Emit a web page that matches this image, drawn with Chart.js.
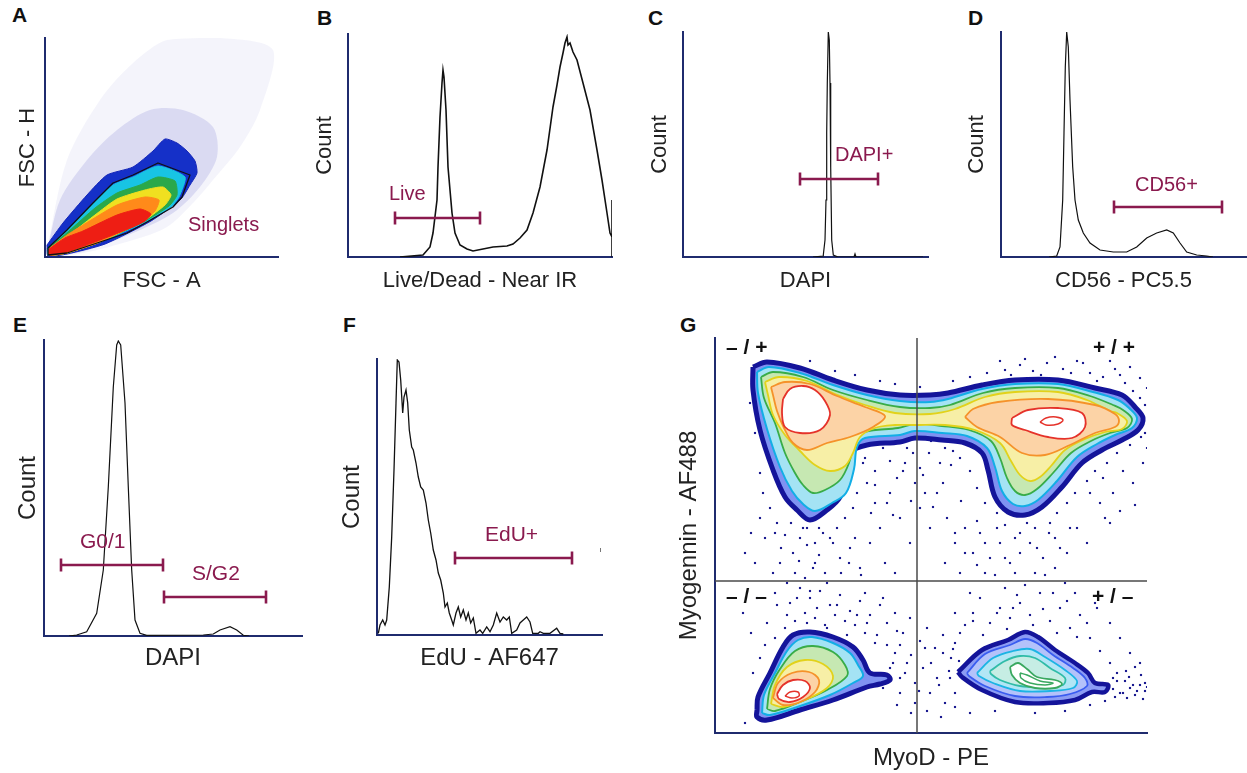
<!DOCTYPE html>
<html>
<head>
<meta charset="utf-8">
<script src="https://cdn.jsdelivr.net/npm/chart.js@4.4.0/dist/chart.umd.min.js"></script>
<style>
  body { margin: 0; background: #fff; width: 1247px; height: 773px; position: relative; overflow: hidden; }
  canvas { position: absolute; }
  .letter { position: absolute; font-family: "Liberation Sans", Arial, sans-serif; font-weight: bold; font-size: 21px; line-height: 21px; color: #111; }
</style>
</head>
<body>
<div class="letter" style="left:12px;top:4px">A</div>
<div class="letter" style="left:317px;top:7px">B</div>
<div class="letter" style="left:648px;top:7px">C</div>
<div class="letter" style="left:968px;top:7px">D</div>
<div class="letter" style="left:13px;top:314px">E</div>
<div class="letter" style="left:343px;top:314px">F</div>
<div class="letter" style="left:680px;top:314px">G</div>
<script>
const FONT = '"Liberation Sans", Arial, Helvetica, sans-serif';
const PURPLE = '#8a1a4e';
const AXIS = '#1f2b6e';

// ---- A: FSC-A vs FSC-H density (channel units) ----
const A_cloudOuter = [[2,8],[22,97],[55,157],[88,194],[122,217],[175,219],[228,207],[215,147],[195,110],[168,77],[148,54],[122,30],[88,17],[38,4],[3,1]];
const A_cloudInner = [[3,10],[15,57],[42,97],[72,127],[105,147],[138,147],[168,130],[172,100],[155,70],[128,44],[88,24],[40,6],[3,1]];
const A_blue   = [[2,12],[18,34],[42,62],[62,82],[88,90],[108,106],[120,118],[132,114],[142,106],[150,96],[152,84],[145,72],[136,58],[106,36],[60,13],[22,3],[3,1]];
const A_cyan   = [[3,9],[22,27],[48,53],[68,72],[88,80],[113,91],[140,80],[134,60],[126,50],[101,35],[55,15],[22,4],[3,2]];
const A_green  = [[4,9],[24,26],[50,49],[72,64],[95,72],[113,80],[130,76],[132,62],[124,51],[100,36],[55,15],[22,4],[4,2]];
const A_yellow = [[5,9],[28,25],[50,42],[72,58],[100,67],[118,70],[126,62],[120,52],[100,37],[55,15],[22,4],[5,2]];
const A_orange = [[5,9],[22,22],[38,32],[72,52],[100,60],[114,57],[110,46],[98,37],[55,15],[22,4],[5,2]];
const A_red    = [[4,8],[20,19],[38,26],[72,42],[95,48],[106,43],[100,36],[88,30],[55,17],[22,5],[4,2]];
const A_gate   = [[3,9],[22,27],[48,54],[68,74],[88,82],[113,94],[145,82],[137,60],[128,50],[102,35],[82,24],[55,15],[22,4],[3,2]];

// ---- B: Live/Dead histogram ----
const B_channel = [52,75,82,85,89,90,92,94,95,96,98,100,104,107,112,119,125,135,145,159,165,172,179,185,192,199,205,209,212,215,217,219,220,222,225,229,235,242,249,254,259,262,264,264,264];
const B_count   = [0,2,10,24,57,90,140,174,187,180,147,90,44,24,12,8,6,8,10,11,13,19,27,44,70,107,150,172,190,204,214,220,212,214,205,197,174,147,107,77,44,24,20,57,0];
const B_gateLive = [47, 132, 39];

// ---- C: DAPI (viability) histogram ----
const C_channel = [130,140,140.3,142,143,143.7,144.3,145.3,146.3,147,147.7,148.7,150.3,155,171,172,173,240];
const C_count   = [0,1,2,17,57,124,174,225,217,174,90,17,2,0,0,3,0,0];
const C_gateDapi = [117, 195, 78];

// ---- D: CD56 histogram ----
const D_channel = [48,55.7,59,61.7,63,64.3,65.7,67.3,69,71.7,74,77.3,82.3,89,99,112.3,125.7,135.7,145.7,155.7,165.7,172.3,179,185.7,195.7,205.7,212];
const D_count   = [0,1,10,57,124,190,225,210,157,90,57,37,24,14,7,5,5,10,19,24,27,24,14,5,2,1,0];
const D_gateCd56 = [113, 221, 50];

// ---- E: DAPI cell cycle histogram ----
const E_channel = [25,32.7,42.7,52.7,59.3,64.3,69.3,72.7,74.3,76.7,81,84.3,87.7,91,96,102.7,159.3,169.3,176,186,192.7,199.3,205];
const E_count   = [0,1,4.3,22.7,66,149,249,291,295,291,233,149,66,16,2.7,0.7,1,2,6,9.3,6,0.7,0];
const E_gateG01 = [17, 119, 71];
const E_gateSG2 = [120, 222, 39];

// ---- F: EdU histogram ----
const F_channel = [1.3,3,5.7,8,9.7,12.3,14.7,17,19,20.3,22,23.7,25.7,27,29,30.7,32.3,34.7,36.3,39,41.3,43.7,46.3,49,51.3,53.7,56.3,59,61.3,63.7,66.3,68,70.3,72.3,74.7,76.3,79,81.3,83.7,86.3,89,91.3,93.7,96.3,99,103,105.7,109.7,113,116.3,119.7,123,126.3,129.7,132.3,134.7,139.7,143,146.3,149.7,153,155.7,161.3,163,166.3,173,179.7,183,186.3];
const F_count   = [1.7,10,15,10,15,48,98,165,232,275,273,255,222,238,245,232,205,188,185,172,158,148,145,132,115,102,85,75,62,55,42,28,32,22,15,10,22,28,18,25,15,22,12,17,1.7,5,1.7,8,3.3,10,22,13,18,15,18,1.7,5,12,15,18,13,1.7,1.7,3.3,1.7,1.7,6.7,1.7,1];
const F_gateEdu = [78, 195, 77];
const F_stray = [[223.5,83],[223.5,87]];

// ---- G: MyoD vs Myogenin contour plot ----
const G_quadX = 202;
const G_quadY = 152;
const G_upperOuter = [[38,366],[52,371],[85,365],[118,353],[152,343],[185,338],[215,338],[233,340],[267,348],[300,353],[343,353],[380,345],[407,338],[420,326],[428,315],[423,303],[407,293],[387,283],[367,270],[347,246],[327,226],[310,218],[293,221],[280,236],[273,263],[267,280],[250,290],[227,293],[200,295],[185,291],[152,288],[135,280],[132,260],[125,236],[112,223],[95,213],[82,223],[70,236],[58,263],[45,303],[38,343]];
const G_upperCyan = [[42,361],[54,366],[85,360],[118,348],[152,338],[185,332],[215,331],[233,334],[267,344],[300,349],[343,349],[378,341],[403,333],[414,325],[422,315],[417,305],[400,298],[382,289],[362,276],[342,252],[323,233],[310,227],[298,229],[287,242],[280,266],[272,285],[252,297],[227,300],[200,302],[185,298],[150,295],[142,286],[139,264],[131,240],[117,230],[100,222],[88,229],[77,242],[65,266],[52,304],[43,340]];
const G_upperGreen = [[46,356],[58,361],[88,356],[118,343],[152,333],[185,326],[215,325],[235,328],[268,340],[300,345],[343,345],[375,337],[398,328],[408,323],[417,314],[412,305],[395,300],[376,292],[356,280],[338,260],[322,244],[310,238],[300,242],[292,255],[285,275],[276,292],[254,303],[227,307],[200,309],[183,305],[150,301],[140,292],[134,270],[125,253],[110,243],[98,240],[88,248],[80,260],[70,280],[60,310],[49,335]];
const G_upperYellow = [[50,351],[64,356],[92,352],[120,339],[150,328],[180,320],[215,319],[240,324],[270,336],[300,341],[343,341],[372,333],[395,322],[402,320],[412,312],[407,304],[390,301],[370,294],[350,283],[336,267],[325,256],[315,252],[305,258],[296,272],[285,290],[260,303],[230,308],[200,308],[180,308],[160,305],[145,296],[138,280],[130,267],[115,262],[100,268],[85,282],[70,298],[58,318],[53,338]];
const G_upperOrangeL = [[56,346],[70,351],[95,349],[122,337],[150,326],[170,317],[158,306],[135,296],[112,290],[92,283],[78,290],[69,305],[62,322],[58,338]];
const G_upperOrangeR = [[250,316],[262,306],[285,296],[307,280],[330,278],[355,288],[380,300],[400,306],[404,312],[400,319],[380,328],[333,334],[283,331],[258,324]];
const G_upperRedL = [[68,334],[75,344],[88,347],[100,343],[110,332],[115,318],[105,303],[85,300],[70,306],[67,320]];
const G_upperRedR = [[297,315],[313,323],[343,325],[367,320],[370,306],[357,295],[333,296],[310,303],[297,308]];
const G_upperRedCore = [[325,311],[331,315],[341,316],[348,313],[343,309],[331,308]];
const G_llOuter = [[42,23],[43,36],[55,60],[68,86],[78,98],[95,101],[118,96],[138,86],[148,73],[155,60],[172,58],[175,53],[165,49],[152,46],[118,33],[85,23],[52,13],[42,16]];
const G_llCyan = [[47,20],[49,38],[60,60],[72,82],[83,93],[97,96],[118,90],[135,80],[143,68],[148,57],[138,50],[115,38],[85,27],[55,18]];
const G_llGreen = [[52,24],[55,44],[65,64],[80,82],[98,87],[118,81],[130,68],[132,57],[112,43],[85,31],[60,22]];
const G_llYellow = [[56,29],[60,48],[72,66],[90,73],[108,69],[118,57],[112,45],[90,33],[68,26]];
const G_llOrange = [[58,35],[63,50],[77,60],[94,61],[104,53],[100,41],[85,31],[68,28]];
const G_llRed = [[62,39],[68,48],[78,53],[90,52],[95,45],[88,36],[75,31],[64,34]];
const G_llCore = [[70,37],[75,41],[83,41],[84,37],[77,35]];
const G_lrOuter = [[243,61],[267,83],[293,93],[310,101],[323,96],[340,83],[360,70],[373,60],[380,50],[393,48],[390,41],[377,41],[360,33],[333,30],[300,31],[267,43],[247,56]];
const G_lrBlue = [[252,60],[270,79],[295,88],[310,94],[322,90],[338,78],[358,65],[370,55],[372,47],[355,39],[332,36],[300,37],[270,47],[254,57]];
const G_lrCyan = [[262,60],[278,75],[298,82],[315,84],[330,76],[350,63],[362,52],[358,45],[335,42],[305,42],[278,50],[264,57]];
const G_lrTeal = [[275,62],[290,72],[305,77],[320,75],[335,65],[350,55],[348,48],[330,46],[305,47],[285,53],[276,59]];
const G_lrGreen = [[295,66],[303,70],[312,64],[322,56],[340,53],[347,49],[340,45],[320,45],[305,50],[297,58]];
const G_lrCore = [[305,60],[312,58],[325,52],[338,50],[330,48],[315,50],[306,55]];
const G_events = [[95,372],[120,362],[140,358],[165,352],[180,349],[205,346],[238,352],[255,356],[272,360],[290,363],[305,368],[318,362],[332,370],[348,364],[362,372],[375,360],[388,356],[400,364],[410,350],[418,342],[425,335],[430,328],[426,296],[415,288],[402,280],[392,270],[380,262],[372,252],[360,240],[352,230],[342,220],[335,210],[320,205],[305,200],[290,208],[282,220],[270,230],[262,245],[255,262],[245,275],[238,282],[225,270],[214,280],[205,265],[198,280],[190,270],[182,255],[175,272],[168,285],[160,262],[152,250],[148,270],[142,240],[138,225],[130,215],[122,205],[115,195],[108,200],[100,190],[92,205],[85,195],[78,180],[70,198],[62,210],[55,225],[48,240],[45,260],[40,300],[35,330],[100,170],[110,160],[125,175],[135,185],[145,165],[155,190],[165,205],[172,230],[185,215],[195,190],[205,225],[215,205],[222,240],[232,215],[240,190],[250,205],[258,180],[265,200],[275,175],[285,190],[295,170],[305,180],[315,190],[328,175],[340,195],[352,180],[362,205],[372,190],[385,230],[395,210],[120,240],[115,225],[200,250],[210,240],[160,230],[65,170],[80,160],[90,155],[170,170],[180,160],[230,170],[245,160],[270,160],[300,160],[320,160],[340,165],
  [60,140],[75,130],[85,145],[95,135],[105,142],[115,128],[125,138],[135,122],[145,132],[155,118],[165,128],[172,110],[180,120],[188,100],[195,115],[205,92],[212,105],[220,85],[228,98],[236,75],[240,90],[250,108],[258,120],[265,135],[275,110],[285,125],[295,115],[305,130],[315,118],[325,140],[335,112],[345,125],[355,105],[365,118],[375,95],[385,82],[395,70],[402,60],[410,52],[415,45],[420,38],[425,48],[430,42],[405,40],[412,35],[398,55],[180,80],[175,65],[168,45],[185,55],[192,70],[200,50],[208,65],[215,40],[222,55],[230,30],[200,30],[185,40],[160,90],[150,100],[140,108],[130,112],[120,118],[110,108],[100,115],[90,120],[80,112],[70,105],[60,95],[50,88],[45,75],[38,60],[30,10],[240,120],[255,140],[290,145],[310,148],[360,140],[380,130],[395,110],[405,95],[415,80],[425,70],[255,20],[280,22],[320,20],[350,22],[375,28],[390,32],[240,40],[235,55],
  [30,180],[40,170],[50,195],[58,160],[66,185],[72,150],[84,172],[92,188],[98,165],[104,178],[112,150],[118,190],[126,160],[134,170],[140,195],[146,158],[88,205],[76,210],[104,205],[60,200],[45,215],[36,200],
  [150,275],[160,248],[175,240],[188,262],[196,232],[208,258],[218,226],[228,250],[236,268],[246,232],[156,220],[178,218],[192,285],[230,285],[216,292],
  [240,200],[250,180],[262,212],[270,190],[282,205],[290,175],[300,195],[312,210],[322,185],[334,200],[345,185],[355,205],[262,168],[280,158],[330,158],[350,150],
  [375,240],[388,255],[398,240],[408,262],[418,250],[428,270],[420,228],[405,222],[390,215],[430,300],[432,285],
  [285,372],[296,358],[310,374],[326,358],[340,376],[356,360],[368,370],[382,352],[395,372],[405,358],[415,366],[425,355],[432,345],
  [28,120],[36,100],[42,135],[52,110],[62,128],[72,118],[82,135],[92,110],[102,125],[112,105],[122,128],[132,98],[142,118],[152,110],[162,98],[172,88],[182,102],[168,135],[150,140],[95,142],
  [178,70],[185,88],[190,60],[196,78],[204,42],[210,85],[216,70],[224,48],[228,80],[234,62],[240,26],[244,72],[182,28],[196,20],[212,22],[226,16],[238,84],
  [398,44],[402,52],[408,40],[414,56],[418,48],[422,42],[426,58],[430,50],[432,46],[400,36],[411,62],[420,66],[428,34],
  [245,100],[258,112],[268,98],[282,120],[292,104],[302,138],[318,108],[328,124],[342,100],[352,132],[362,96],[372,110],[382,125],[298,125],[338,140]];

// ---- helpers ----
function pts(arr) { return arr.map(p => ({x: p[0], y: p[1]})); }

function hist(channel, count, width) {
  return { data: channel.map((x, i) => ({x: x, y: count[i]})), showLine: true, borderColor: '#111', borderWidth: width,
           pointRadius: 0, tension: 0, fill: false };
}

function gate(g) {
  return { data: [{x: g[0], y: g[2]}, {x: g[1], y: g[2]}], showLine: true, borderColor: PURPLE, borderWidth: 2.6,
           pointStyle: 'line', pointRadius: 6.5, pointRotation: 90, pointBorderColor: PURPLE, pointBorderWidth: 2.6, clip: false };
}

function poly(arr, stroke, width, fillColor, tension) {
  const d = pts(arr);
  d.push({x: arr[0][0], y: arr[0][1]});
  return { data: d, showLine: true, borderColor: stroke, borderWidth: width, backgroundColor: fillColor || 'transparent',
           fill: fillColor ? 'shape' : false, pointRadius: 0, tension: tension || 0, borderJoinStyle: 'round' };
}

function textPlugin(items) {
  return {
    id: 'gateText',
    afterDatasetsDraw(chart) {
      const ctx = chart.ctx, xs = chart.scales.x, ys = chart.scales.y;
      items.forEach(it => {
        ctx.save();
        ctx.font = it.font;
        ctx.fillStyle = it.color;
        ctx.textAlign = 'left';
        ctx.textBaseline = 'middle';
        ctx.fillText(it.text, xs.getPixelForValue(it.x), ys.getPixelForValue(it.y));
        ctx.restore();
      });
    }
  };
}

function makePanel(p) {
  const lh = p.fs * 1.2;
  const cl = p.area.l - 70, ct = p.area.t - 12, cr = p.area.r + 12;
  const cb = Math.ceil(p.xTitleY + lh / 2 + 6);
  const W = cr - cl, H = cb - ct;
  const cv = document.createElement('canvas');
  cv.width = W; cv.height = H;
  cv.style.left = cl + 'px'; cv.style.top = ct + 'px';
  cv.style.width = W + 'px'; cv.style.height = H + 'px';
  document.body.appendChild(cv);
  const yPt = p.yTitleX - cl - lh / 2;
  const yPb = p.area.l - cl - lh - yPt;
  const xPt = p.xTitleY - p.area.b - lh / 2;
  const xPb = cb - p.area.b - lh - xPt;
  const ds = p.datasets.map((d, i, a) => Object.assign({order: a.length - i}, d));
  const base = { type: 'linear', min: 0, grid: {display: false, drawTicks: false}, ticks: {display: false},
                 border: {display: true, color: AXIS, width: 2} };
  return new Chart(cv, {
    type: 'scatter',
    data: {datasets: ds},
    plugins: [textPlugin(p.labels || [])],
    options: {
      responsive: false, animation: false, events: [],
      layout: {autoPadding: false, padding: {left: 0, top: 12, right: 12, bottom: 0}},
      plugins: {legend: {display: false}, tooltip: {enabled: false}},
      scales: {
        x: Object.assign({}, base, {max: p.xmax, title: {display: true, text: p.xTitle, color: '#222',
             font: {family: FONT, size: p.fs}, padding: {top: xPt, bottom: xPb}}}),
        y: Object.assign({}, base, {max: p.ymax, title: {display: true, text: p.yTitle, color: '#222',
             font: {family: FONT, size: p.fs}, padding: {top: yPt, bottom: yPb}}})
      }
    }
  });
}

const gateFont = '20px ' + FONT;
const gateFont2 = '21px ' + FONT;
const quadFont = 'bold 21px ' + FONT;

// A
makePanel({
  area: {l: 45, t: 38, r: 278, b: 257}, fs: 22, yTitle: 'FSC - H', yTitleX: 28, xTitle: 'FSC - A', xTitleY: 281,
  xmax: 233, ymax: 219,
  datasets: [
    poly(A_cloudOuter, 'transparent', 0, 'rgba(70,70,190,0.06)', 0.3),
    poly(A_cloudInner, 'transparent', 0, 'rgba(50,50,185,0.13)', 0.3),
    poly(A_blue, '#1426b8', 1, '#1530c8', 0.2),
    poly(A_cyan, '#18c4e4', 1, '#18c4e4', 0.2),
    poly(A_green, '#2aa84a', 1, '#2aa84a', 0.2),
    poly(A_yellow, '#f0e020', 1, '#f0e020', 0.2),
    poly(A_orange, '#ff8a1a', 1, '#ff8a1a', 0.2),
    poly(A_red, '#ee1e14', 1, '#ee1e14', 0.2),
    poly(A_gate, '#111', 1.3, null, 0)
  ],
  labels: [{text: 'Singlets', x: 143, y: 32, color: PURPLE, font: gateFont}]
});

// B
makePanel({
  area: {l: 348, t: 34, r: 612, b: 257}, fs: 22, yTitle: 'Count', yTitleX: 325, xTitle: 'Live/Dead - Near IR', xTitleY: 281,
  xmax: 264, ymax: 223,
  datasets: [hist(B_channel, B_count, 1.6), gate(B_gateLive)],
  labels: [{text: 'Live', x: 41, y: 63, color: PURPLE, font: gateFont}]
});

// C
makePanel({
  area: {l: 683, t: 32, r: 928, b: 257}, fs: 22, yTitle: 'Count', yTitleX: 660, xTitle: 'DAPI', xTitleY: 281,
  xmax: 245, ymax: 225,
  datasets: [hist(C_channel, C_count, 1.2), gate(C_gateDapi)],
  labels: [{text: 'DAPI+', x: 152, y: 102, color: PURPLE, font: gateFont}]
});

// D
makePanel({
  area: {l: 1001, t: 32, r: 1246, b: 257}, fs: 22, yTitle: 'Count', yTitleX: 977, xTitle: 'CD56 - PC5.5', xTitleY: 281,
  xmax: 245, ymax: 225,
  datasets: [hist(D_channel, D_count, 1.2), gate(D_gateCd56)],
  labels: [{text: 'CD56+', x: 134, y: 72, color: PURPLE, font: gateFont}]
});

// E
makePanel({
  area: {l: 44, t: 340, r: 302, b: 636}, fs: 24, yTitle: 'Count', yTitleX: 28, xTitle: 'DAPI', xTitleY: 658,
  xmax: 258, ymax: 296,
  datasets: [hist(E_channel, E_count, 1.2), gate(E_gateG01), gate(E_gateSG2)],
  labels: [{text: 'G0/1', x: 36, y: 94, color: PURPLE, font: gateFont2},
           {text: 'S/G2', x: 148, y: 62, color: PURPLE, font: gateFont2}]
});

// F
makePanel({
  area: {l: 377, t: 359, r: 602, b: 635}, fs: 24, yTitle: 'Count', yTitleX: 352, xTitle: 'EdU - AF647', xTitleY: 658,
  xmax: 225, ymax: 276,
  datasets: [hist(F_channel, F_count, 1.3), gate(F_gateEdu),
             Object.assign(poly(F_stray, '#777', 1, null, 0), {clip: false})],
  labels: [{text: 'EdU+', x: 108, y: 100, color: PURPLE, font: gateFont2}]
});

// G
makePanel({
  area: {l: 715, t: 338, r: 1147, b: 733}, fs: 24, yTitle: 'Myogennin - AF488', yTitleX: 689, xTitle: 'MyoD - PE', xTitleY: 758,
  xmax: 432, ymax: 395,
  datasets: [
    {data: pts(G_events), pointStyle: 'rect', pointRadius: 1.5, backgroundColor: '#1a1a90', borderWidth: 0},
    poly(G_upperOuter, '#14149a', 5, '#7f92f2', 0.35),
    poly(G_upperCyan, '#12aee6', 2, '#a4e3f4', 0.35),
    poly(G_upperGreen, '#38ac48', 1.8, '#c6e8b2', 0.35),
    poly(G_upperYellow, '#e2d21a', 1.8, '#f7efa6', 0.35),
    poly(G_upperOrangeL, '#f5922a', 1.8, '#fcd3a6', 0.35),
    poly(G_upperOrangeR, '#f5922a', 1.8, '#fcd3a6', 0.35),
    poly(G_upperRedL, '#e5322a', 1.8, '#ffffff', 0.35),
    poly(G_upperRedR, '#e5322a', 1.8, '#ffffff', 0.35),
    poly(G_upperRedCore, '#e5322a', 1.5, '#ffffff', 0.35),
    poly(G_llOuter, '#14149a', 5, '#7f92f2', 0.35),
    poly(G_llCyan, '#12aee6', 2, '#a4e3f4', 0.35),
    poly(G_llGreen, '#38ac48', 1.8, '#c6e8b2', 0.35),
    poly(G_llYellow, '#e2d21a', 1.8, '#f7efa6', 0.35),
    poly(G_llOrange, '#f5922a', 1.8, '#fcd3a6', 0.35),
    poly(G_llRed, '#e5322a', 1.8, '#ffffff', 0.35),
    poly(G_llCore, '#e5322a', 1.5, '#ffffff', 0.35),
    poly(G_lrOuter, '#14149a', 4.5, '#8c9cf4', 0.35),
    poly(G_lrBlue, '#3a5cf0', 1.8, '#b4c2fa', 0.35),
    poly(G_lrCyan, '#1cb4e4', 1.8, '#b2e6f5', 0.35),
    poly(G_lrTeal, '#30bca8', 1.8, '#c6ede4', 0.35),
    poly(G_lrGreen, '#3aa860', 1.8, '#ffffff', 0.35),
    poly(G_lrCore, '#3aa860', 1.5, '#ffffff', 0.35),
    {data: [{x: G_quadX, y: 0}, {x: G_quadX, y: 395}], showLine: true, borderColor: '#4a4a4a', borderWidth: 1.5, pointRadius: 0},
    {data: [{x: 0, y: G_quadY}, {x: 432, y: G_quadY}], showLine: true, borderColor: '#4a4a4a', borderWidth: 1.5, pointRadius: 0}
  ],
  labels: [
    {text: '– / +', x: 11, y: 385, color: '#111', font: quadFont},
    {text: '+ / +', x: 378, y: 385, color: '#111', font: quadFont},
    {text: '– / –', x: 11, y: 136, color: '#111', font: quadFont},
    {text: '+ / –', x: 377, y: 136, color: '#111', font: quadFont}
  ]
});
</script>
</body>
</html>
